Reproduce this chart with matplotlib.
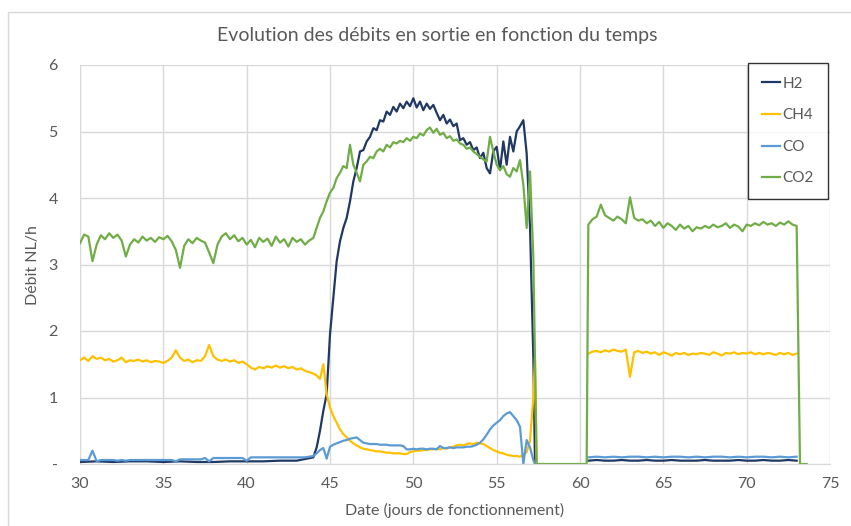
#!/usr/bin/env python3
"""Evolution des debits en sortie (H2, CH4, CO, CO2) vs jours de fonctionnement."""
import numpy as np
import matplotlib
matplotlib.use("Agg")
import matplotlib.pyplot as plt
from matplotlib.patches import Rectangle
from matplotlib.ticker import FuncFormatter

# --- sampling grids (days) ---
days_a = np.round(np.arange(30.0, 43.76, 0.25), 2)   # before the H2 rise
days_b = np.round(np.arange(44.0, 57.21, 0.2), 2)    # production phase
days_c = np.round(np.arange(60.5, 73.01, 0.25), 2)   # restart phase
days_h2_a = np.arange(30.0, 43.01, 1.0)
days_c_coarse = np.round(np.arange(60.5, 73.01, 0.5), 2)

# --- CO2 ---
co2_a = [3.32, 3.45, 3.42, 3.05, 3.30, 3.44, 3.38, 3.47, 3.40, 3.45, 3.36, 3.12,
         3.30, 3.38, 3.33, 3.42, 3.36, 3.40, 3.34, 3.41, 3.38, 3.43, 3.35, 3.22,
         2.95, 3.28, 3.38, 3.32, 3.40, 3.36, 3.33, 3.18, 3.02, 3.30, 3.42, 3.47,
         3.38, 3.44, 3.35, 3.40, 3.30, 3.37, 3.26, 3.40, 3.34, 3.39, 3.28, 3.42,
         3.33, 3.38, 3.27, 3.40, 3.34, 3.38, 3.30, 3.36]
co2_b = [3.40, 3.55, 3.70, 3.80, 3.95, 4.08, 4.15, 4.30, 4.38, 4.48, 4.45, 4.80,
         4.50, 4.38, 4.25, 4.50, 4.55, 4.62, 4.60, 4.70, 4.74, 4.70, 4.80, 4.76,
         4.84, 4.82, 4.86, 4.84, 4.90, 4.86, 4.92, 4.90, 4.97, 4.94, 5.02, 5.06,
         4.98, 5.04, 4.95, 4.98, 4.90, 4.93, 4.86, 4.88, 4.82, 4.80, 4.74, 4.76,
         4.70, 4.66, 4.62, 4.58, 4.55, 4.92, 4.70, 4.50, 4.42, 4.48, 4.36, 4.32,
         4.45, 4.40, 4.57, 4.20, 3.55, 4.40, 3.12]
co2_stop_days = [57.4, 60.4]
co2_stop = [0.0, 0.0]
co2_c = [3.60, 3.68, 3.72, 3.90, 3.74, 3.70, 3.66, 3.72, 3.68, 3.62, 4.01, 3.70,
         3.66, 3.68, 3.62, 3.66, 3.58, 3.64, 3.55, 3.62, 3.58, 3.52, 3.60, 3.54,
         3.58, 3.50, 3.56, 3.54, 3.58, 3.55, 3.60, 3.56, 3.58, 3.62, 3.55, 3.60,
         3.57, 3.50, 3.60, 3.58, 3.62, 3.59, 3.64, 3.60, 3.62, 3.58, 3.63, 3.60,
         3.65, 3.60, 3.58]
co2_end_days = [73.2, 73.6]
co2_end = [0.0, 0.0]

# --- H2 ---
h2_a = [0.03, 0.04, 0.03, 0.04, 0.04, 0.03, 0.04, 0.03, 0.03, 0.04, 0.04, 0.04,
        0.05, 0.05]
h2_b = [0.10, 0.25, 0.50, 0.80, 1.05, 1.95, 2.50, 3.05, 3.35, 3.55, 3.70, 3.95,
        4.25, 4.45, 4.70, 4.72, 4.85, 4.92, 5.05, 5.02, 5.17, 5.15, 5.30, 5.25,
        5.37, 5.30, 5.42, 5.35, 5.45, 5.38, 5.50, 5.36, 5.45, 5.32, 5.42, 5.34,
        5.40, 5.28, 5.17, 5.25, 5.12, 5.18, 5.08, 5.12, 4.87, 4.90, 4.80, 4.84,
        4.72, 4.76, 4.60, 4.68, 4.45, 4.37, 4.70, 4.77, 4.42, 4.85, 4.50, 4.92,
        4.70, 5.00, 5.08, 5.17, 4.67, 3.57, 1.60]
h2_stop_days = [57.3]
h2_stop = [0.0]
h2_c = [0.05, 0.06, 0.05, 0.05, 0.06, 0.05, 0.05, 0.06, 0.05, 0.05, 0.06, 0.05,
        0.05, 0.05, 0.06, 0.05, 0.05, 0.05, 0.06, 0.05, 0.05, 0.06, 0.05, 0.05,
        0.06, 0.05]

# --- CH4 ---
ch4_a = [1.56, 1.60, 1.55, 1.62, 1.58, 1.60, 1.56, 1.58, 1.54, 1.56, 1.60, 1.53,
         1.56, 1.55, 1.57, 1.54, 1.56, 1.53, 1.55, 1.54, 1.52, 1.55, 1.60, 1.71,
         1.60, 1.55, 1.57, 1.53, 1.56, 1.55, 1.62, 1.79, 1.62, 1.57, 1.55, 1.57,
         1.54, 1.56, 1.52, 1.54, 1.50, 1.45, 1.42, 1.46, 1.44, 1.47, 1.45, 1.48,
         1.45, 1.47, 1.44, 1.46, 1.42, 1.44, 1.40, 1.38]
ch4_b = [1.36, 1.33, 1.28, 1.50, 1.05, 0.85, 0.72, 0.62, 0.52, 0.45, 0.40, 0.35,
         0.31, 0.28, 0.25, 0.23, 0.22, 0.21, 0.20, 0.19, 0.19, 0.18, 0.17, 0.17,
         0.16, 0.16, 0.16, 0.15, 0.15, 0.18, 0.19, 0.20, 0.20, 0.21, 0.21, 0.22,
         0.22, 0.23, 0.22, 0.24, 0.23, 0.25, 0.26, 0.28, 0.29, 0.28, 0.30, 0.31,
         0.30, 0.32, 0.31, 0.30, 0.27, 0.24, 0.21, 0.19, 0.17, 0.16, 0.14, 0.13,
         0.12, 0.12, 0.11, 0.14, 0.18, 0.35, 1.00]
ch4_stop_days = [57.3, 57.4]
ch4_stop = [1.60, 0.0]
ch4_c = [1.66, 1.69, 1.70, 1.68, 1.71, 1.69, 1.72, 1.70, 1.69, 1.72, 1.31, 1.68,
         1.70, 1.67, 1.69, 1.66, 1.68, 1.64, 1.68, 1.66, 1.63, 1.67, 1.65, 1.67,
         1.64, 1.66, 1.65, 1.67, 1.66, 1.64, 1.68, 1.66, 1.63, 1.67, 1.66, 1.68,
         1.65, 1.67, 1.66, 1.68, 1.65, 1.67, 1.65, 1.67, 1.66, 1.64, 1.67, 1.65,
         1.67, 1.64, 1.66]

# --- CO ---
co_a = [0.06, 0.06, 0.06, 0.20, 0.04, 0.06, 0.06, 0.06, 0.06, 0.05, 0.06, 0.05,
        0.06, 0.06, 0.06, 0.06, 0.06, 0.06, 0.06, 0.06, 0.06, 0.06, 0.06, 0.04,
        0.07, 0.07, 0.07, 0.07, 0.07, 0.07, 0.09, 0.04, 0.09, 0.09, 0.09, 0.09,
        0.09, 0.09, 0.09, 0.09, 0.05, 0.10, 0.10, 0.10, 0.10, 0.10, 0.10, 0.10,
        0.10, 0.10, 0.10, 0.10, 0.10, 0.10, 0.10, 0.11]
co_b = [0.12, 0.16, 0.21, 0.24, 0.08, 0.26, 0.29, 0.31, 0.33, 0.35, 0.36, 0.38,
        0.39, 0.40, 0.36, 0.32, 0.31, 0.30, 0.30, 0.30, 0.29, 0.29, 0.29, 0.28,
        0.28, 0.28, 0.28, 0.27, 0.22, 0.22, 0.23, 0.22, 0.23, 0.23, 0.22, 0.23,
        0.23, 0.22, 0.27, 0.24, 0.24, 0.25, 0.24, 0.25, 0.25, 0.25, 0.26, 0.26,
        0.27, 0.29, 0.32, 0.37, 0.44, 0.52, 0.58, 0.62, 0.66, 0.72, 0.76, 0.78,
        0.72, 0.66, 0.56, 0.00, 0.36, 0.25, 0.06]
co_stop_days = [57.3]
co_stop = [0.0]
co_c = [0.10, 0.11, 0.10, 0.11, 0.10, 0.11, 0.11, 0.10, 0.11, 0.10, 0.11, 0.11,
        0.10, 0.11, 0.10, 0.11, 0.11, 0.10, 0.11, 0.10, 0.11, 0.11, 0.10, 0.11,
        0.10, 0.11]

series_names = ["H2", "CH4", "CO", "CO2"]
colors = {"H2": "#203864", "CH4": "#FFC000", "CO": "#5B9BD5", "CO2": "#70AD47"}

GAP = [np.nan]


def build(parts):
    xs, ys = [], []
    for d, v in parts:
        assert len(d) == len(v), (len(d), len(v))
        xs.extend(list(d))
        ys.extend(list(v))
    return np.array(xs, dtype=float), np.array(ys, dtype=float)


curves = {
    "H2": build([(days_h2_a, h2_a), (days_b, h2_b), (h2_stop_days, h2_stop),
                 ([58.0], GAP), (days_c_coarse, h2_c)]),
    "CH4": build([(days_a, ch4_a), (days_b, ch4_b), (ch4_stop_days, ch4_stop),
                  ([58.0], GAP), (days_c, ch4_c)]),
    "CO": build([(days_a, co_a), (days_b, co_b), (co_stop_days, co_stop),
                 ([58.0], GAP), (days_c_coarse, co_c)]),
    "CO2": build([(days_a, co2_a), (days_b, co2_b), (co2_stop_days, co2_stop),
                  (days_c, co2_c), (co2_end_days, co2_end)]),
}

plt.rcParams["font.family"] = ["Lato", "DejaVu Sans"]
grey = "#595959"

fig = plt.figure(figsize=(8.51, 5.26), dpi=100)
fig.patches.append(Rectangle((8 / 851, -0.1), 1.2, 1 - 12 / 526 + 0.1,
                             transform=fig.transFigure, fill=False,
                             edgecolor="#D9D9D9", linewidth=1.0))

ax = fig.add_axes([80 / 851, 1 - 464 / 526, 750 / 851, 399 / 526])
for name in series_names:
    x, y = curves[name]
    ax.plot(x, y, color=colors[name], linewidth=1.6, label=name)

ax.set_xlim(30, 75)
ax.set_ylim(0, 6)
ax.set_xticks(range(30, 76, 5))
ax.set_yticks(range(0, 7))
ax.yaxis.set_major_formatter(FuncFormatter(lambda v, p: "-" if v == 0 else f"{v:g}"))
ax.grid(True, color="#D9D9D9", linewidth=1.0)
ax.set_axisbelow(True)
for s in ["top", "right", "left"]:
    ax.spines[s].set_visible(False)
ax.spines["bottom"].set_color("#D9D9D9")
ax.tick_params(length=0, colors=grey, labelsize=11.5)
ax.tick_params(axis="y", pad=16)
ax.tick_params(axis="x", pad=9)

fig.text(437 / 851, 1 - 35 / 526, "Evolution des débits en sortie en fonction du temps",
         ha="center", va="center", fontsize=14, color=grey)
fig.text(455 / 851, 1 - 510 / 526, "Date (jours de fonctionnement)",
         ha="center", va="center", fontsize=11.5, color=grey)
fig.text(33 / 851, 1 - 265 / 526, "Débit NL/h", rotation=90,
         ha="center", va="center", fontsize=11.5, color=grey)

leg = fig.legend(loc="upper left", bbox_to_anchor=(748 / 851, 1 - 63 / 526),
                 fontsize=11, frameon=True, fancybox=False, edgecolor="black",
                 handlelength=1.2, handletextpad=0.15, labelspacing=1.15,
                 borderpad=0.9, borderaxespad=0)
leg.get_frame().set_linewidth(1.0)
for t in leg.get_texts():
    t.set_color(grey)

plt.savefig("out.png", dpi=100)
plt.close()
